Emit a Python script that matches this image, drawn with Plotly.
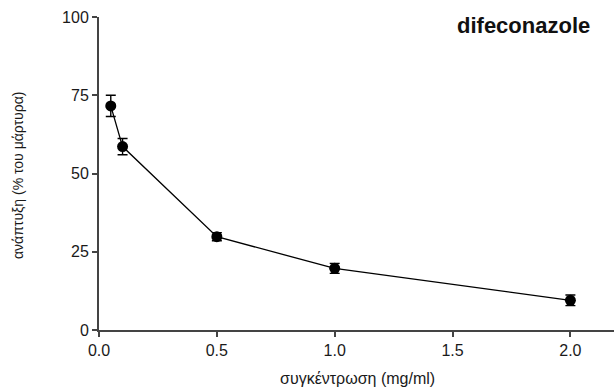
import plotly.graph_objects as go

conc = [0.05, 0.1, 0.5, 1.0, 2.0]
growth = [71.6, 58.6, 29.8, 19.7, 9.5]
err = [3.4, 2.6, 1.3, 1.6, 1.7]

x_ticks = [0.0, 0.5, 1.0, 1.5, 2.0]
x_ticklabels = ["0.0", "0.5", "1.0", "1.5", "2.0"]
y_ticks = [0, 25, 50, 75, 100]
y_ticklabels = ["0", "25", "50", "75", "100"]

FONT = "Liberation Sans, Arial, sans-serif"

fig = go.Figure()
fig.add_trace(go.Scatter(
    x=conc, y=growth,
    mode="lines+markers",
    line=dict(color="black", width=1.3),
    marker=dict(color="black", size=11),
    error_y=dict(type="data", array=err, visible=True, color="black", thickness=1.4, width=5),
    showlegend=False,
))

tick_font = dict(family=FONT, size=16, color="#1a1a1a")

L, T, B, W, H = 99, 17, 330, 614, 389

fig.update_layout(
    width=W, height=H,
    margin=dict(l=L, r=0, t=T, b=H - B),
    paper_bgcolor="white", plot_bgcolor="white",
    font=tick_font,
    xaxis=dict(
        range=[0, 2.185], tickvals=x_ticks, ticktext=x_ticklabels,
        showgrid=False, zeroline=False, showline=True, linecolor="#444", linewidth=2,
        ticks="outside", ticklen=5, tickwidth=1.5, tickcolor="#444",
        tickfont=tick_font,
    ),
    yaxis=dict(
        range=[0, 100], tickvals=y_ticks, ticktext=y_ticklabels,
        showgrid=False, zeroline=False, showline=True, linecolor="#444", linewidth=2,
        ticks="outside", ticklen=5, tickwidth=1.5, tickcolor="#444",
        tickfont=tick_font,
    ),
    annotations=[
        dict(text="<b>difeconazole</b>", xref="paper", yref="paper",
             x=(523 - L) / (W - L), y=(B - 25) / (B - T), xanchor="center", yanchor="middle",
             showarrow=False, font=dict(family=FONT, size=22, color="#111")),
        dict(text="συγκέντρωση (mg/ml)", xref="paper", yref="paper",
             x=(357 - L) / (W - L), y=-(378 - B) / (B - T), xanchor="center", yanchor="middle",
             showarrow=False, font=dict(family=FONT, size=16, color="#1a1a1a")),
        dict(text="ανάπτυξη (% του μάρτυρα)", xref="paper", yref="paper", textangle=-90,
             x=-(L - 18) / (W - L), y=(B - 176) / (B - T), xanchor="center", yanchor="middle",
             showarrow=False, font=dict(family=FONT, size=14, color="#1a1a1a")),
    ],
)

fig.write_html("out.html")
